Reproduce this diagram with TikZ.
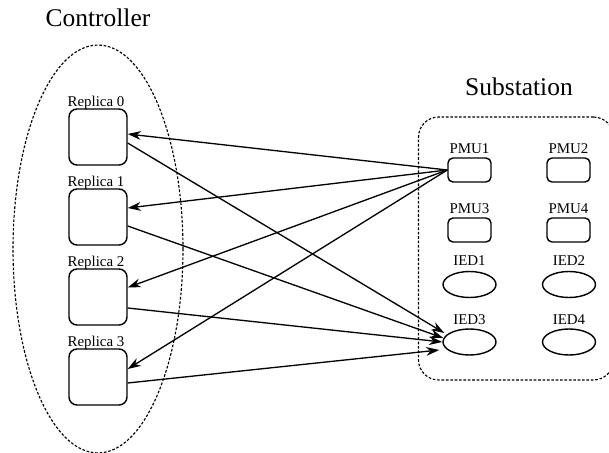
\documentclass[tikz,border=0pt]{standalone}
\usepackage{fontspec}
\setmainfont{Liberation Serif}
\usepackage{tikz}
\usetikzlibrary{arrows.meta,shapes.geometric}

\begin{document}
\begin{tikzpicture}[x=0.02cm, y=-0.02cm,
		replica/.style={shape=rectangle, draw=black, line width=0.8pt, rounded corners=0.16cm, minimum width=1.16cm, minimum height=1.12cm, inner sep=0pt},
		pmu/.style={shape=rectangle, draw=black, line width=0.8pt, rounded corners=0.1cm, minimum width=0.86cm, minimum height=0.48cm, inner sep=0pt},
		ied/.style={shape=ellipse, draw=black, line width=0.8pt, minimum width=1.06cm, minimum height=0.52cm, inner sep=0pt},
		tag/.style={font=\fontsize{8.5}{10}\selectfont, anchor=base, inner sep=0pt},
		title/.style={font=\fontsize{14.5}{17}\selectfont, anchor=base, inner sep=0pt},
		group/.style={draw=black, line width=0.65pt, dash pattern=on 1.5pt off 1pt},
		link/.style={line width=0.75pt, -{Stealth[length=7.5pt,width=5pt]}}]
				\useasboundingbox (0,0) rectangle (609,453);
				% controller side
				\node[title] (ctrltitle) at (98,27) {Controller};
				\node[group, shape=ellipse, minimum width=3.4cm, minimum height=8.16cm, inner sep=0pt] (ctrl) at (98,249) {};
				\node[replica] (r0) at (98,137) {};
				\node[replica] (r1) at (98,217) {};
				\node[replica] (r2) at (98,297) {};
				\node[replica] (r3) at (98,377) {};
				\node[tag] (r0label) at (96,106) {Replica 0};
				\node[tag] (r1label) at (96,186) {Replica 1};
				\node[tag] (r2label) at (96,266) {Replica 2};
				\node[tag] (r3label) at (96,346) {Replica 3};
				% substation side
				\node[title] (subtitle) at (519,95) {Substation};
				\node[group, shape=rectangle, rounded corners=0.4cm, minimum width=3.9cm, minimum height=5.26cm, inner sep=0pt] (sub) at (516,248.5) {};
				\node[pmu] (pmu1) at (469.5,170) {};
				\node[pmu] (pmu2) at (568.5,170) {};
				\node[pmu] (pmu3) at (469.5,230) {};
				\node[pmu] (pmu4) at (568.5,230) {};
				\node[ied] (ied1) at (469.5,284.5) {};
				\node[ied] (ied2) at (569,284.5) {};
				\node[ied] (ied3) at (469.5,342) {};
				\node[ied] (ied4) at (569,342) {};
				\node[tag] (pmu1label) at (469.5,153) {PMU1};
				\node[tag] (pmu2label) at (568.5,153) {PMU2};
				\node[tag] (pmu3label) at (469.5,213) {PMU3};
				\node[tag] (pmu4label) at (568.5,213) {PMU4};
				\node[tag] (ied1label) at (469.5,265) {IED1};
				\node[tag] (ied2label) at (569,265) {IED2};
				\node[tag] (ied3label) at (469.5,324) {IED3};
				\node[tag] (ied4label) at (569,324) {IED4};
				% PMU1 to replicas
				\path[link] (pmu1.west) edge ([yshift=0.06cm]r0.east);
				\path[link] (pmu1.west) edge ([yshift=0.18cm]r1.east);
				\path[link] (pmu1.west) edge ([yshift=0.19cm]r2.east);
				\path[link] (pmu1.west) edge ([yshift=0.16cm]r3.east);
				% replicas to IED3
				\path[link] ([yshift=-0.12cm]r0.east) edge ([xshift=0.04cm,yshift=0.18cm]ied3.west);
				\path[link] ([yshift=-0.18cm]r1.east) edge ([xshift=0.02cm,yshift=0.08cm]ied3.west);
				\path[link] ([yshift=-0.22cm]r2.east) edge (ied3.west);
				\path[link] ([yshift=-0.12cm]r3.east) edge ([xshift=-0.06cm,yshift=-0.16cm]ied3.west);
			\end{tikzpicture}
\end{document}
